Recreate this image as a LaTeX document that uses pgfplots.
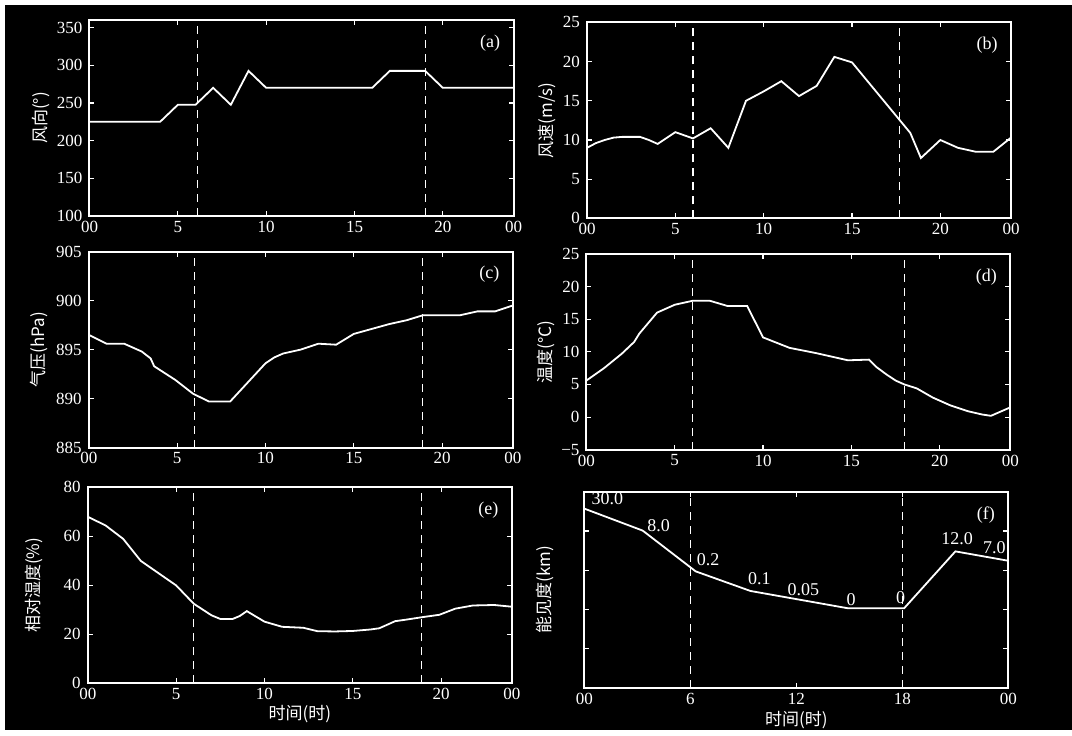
\documentclass[border=0pt]{standalone}
\usepackage{pgfplots}
\pgfplotsset{compat=1.18}
\usepackage{fontspec}
\setmainfont{Liberation Serif}
\newfontfamily\cjk{Noto Sans CJK SC}
\tikzset{
  plab/.style={white, font=\fontsize{9}{10}\selectfont, anchor=north east},
  dat/.style={white, line width=0.9pt},
  vl/.style={white, line width=0.6pt, dash pattern=on 4pt off 3pt},
}
\pgfplotsset{
  panel/.style={
    anchor=south west, scale only axis, width=212pt, height=98pt,
    xmin=0, xmax=24,
    xtick={0,5,10,15,20,24}, xticklabels={00,5,10,15,20,00},
    axis line style={white, line width=1pt},
    tick style={white, line width=0.6pt},
    tick align=inside, major tick length=2.5pt,
    ticklabel style={white, font=\fontsize{8.5}{9}\selectfont},
    /pgf/number format/assume math mode=true,
    xticklabel style={yshift=1pt},
    every axis label/.append style={white, font=\cjk\fontsize{8.5}{9}\selectfont},
    ylabel style={at={(axis description cs:0,0.5)}, anchor=center},
    xlabel style={at={(axis description cs:0.5,0)}, anchor=center},
  },
}
\begin{document}
\begin{tikzpicture}
\fill[white] (0,0) rectangle (536pt,365pt);
\fill[black] (2.5pt,0) rectangle (536pt,362.5pt);

% (a) wind direction
\begin{axis}[panel, at={(44.75pt,257pt)}, ymin=100, ymax=360,
  ytick={100,150,200,250,300,350},
  ylabel={风向(°)}, ylabel style={yshift=24pt}]
\addplot[vl] coordinates {(6.1,100) (6.1,360)};
\addplot[vl] coordinates {(19,100) (19,360)};
\addplot[dat] coordinates {(0,225) (4,225) (5,247.5) (6,247.5) (7,270) (8,247.5) (9,292.5) (10,270) (16,270) (17,292.5) (19,292.5) (20,270) (24,270)};
\node[plab] at (rel axis cs:0.985,0.96) {(a)};
\end{axis}

% (b) wind speed
\begin{axis}[panel, at={(293.5pt,255.8pt)}, ymin=0, ymax=25,
  ytick={0,5,10,15,20,25},
  ylabel={风速(m/s)}, ylabel style={yshift=20pt}]
\addplot[vl] coordinates {(6,0) (6,25)};
\addplot[vl] coordinates {(17.7,0) (17.7,25)};
\addplot[dat] coordinates {(0,9.0) (0.5,9.6) (1,10.0) (1.5,10.3) (2,10.4) (3,10.4) (3.5,10.0) (4,9.5) (5,11.0) (6,10.2) (7,11.5) (8,9.0) (9,15.0) (10,16.2) (11,17.5) (12,15.6) (13,16.9) (14,20.6) (15,19.9) (18.3,10.9) (18.9,7.7) (20,10.0) (21,9.0) (22,8.5) (23,8.5) (24,10.3)};
\node[plab] at (rel axis cs:0.985,0.96) {(b)};
\end{axis}

% (c) pressure
\begin{axis}[panel, at={(44.4pt,141.2pt)}, ymin=885, ymax=905,
  ytick={885,890,895,900,905},
  ylabel={气压(hPa)}, ylabel style={yshift=25pt}]
\addplot[vl] coordinates {(6,885) (6,905)};
\addplot[vl] coordinates {(18.9,885) (18.9,905)};
\addplot[dat] coordinates {(0,896.5) (1,895.6) (2,895.6) (3,894.8) (3.5,894.1) (3.7,893.3) (4.9,891.9) (5.9,890.5) (6.8,889.7) (8,889.7) (10,893.6) (10.5,894.2) (11,894.6) (12,895.0) (13,895.6) (14,895.5) (15,896.6) (16,897.1) (17,897.6) (18,898.0) (18.9,898.5) (21,898.5) (22,898.9) (23,898.9) (24,899.5)};
\node[plab] at (rel axis cs:0.985,0.96) {(c)};
\end{axis}

% (d) temperature
\begin{axis}[panel, at={(293.2pt,140.1pt)}, ymin=-5, ymax=25,
  ytick={-5,0,5,10,15,20,25}, yticklabels={−5,0,5,10,15,20,25},
  ylabel={温度(℃)}, ylabel style={yshift=20pt}]
\addplot[vl] coordinates {(6,-5) (6,25)};
\addplot[vl] coordinates {(18,-5) (18,25)};
\addplot[dat] coordinates {(0,5.6) (1,7.5) (2,9.7) (2.7,11.5) (3,12.8) (4,16.0) (5,17.2) (6,17.8) (7,17.8) (8,17.0) (9.1,17.0) (10,12.2) (11.5,10.6) (13,9.8) (14.8,8.7) (16,8.8) (16.4,7.7) (17,6.5) (17.5,5.6) (18,5.0) (18.7,4.4) (19.6,3.0) (20.6,1.8) (21.6,0.9) (22.4,0.4) (22.9,0.2) (24,1.5)};
\node[plab] at (rel axis cs:0.985,0.96) {(d)};
\end{axis}

% (e) relative humidity
\begin{axis}[panel, at={(43.9pt,23.3pt)}, ymin=0, ymax=80,
  ytick={0,20,40,60,80},
  ylabel={相对湿度(\%)}, ylabel style={yshift=27pt},
  xlabel={时间(时)}, xlabel style={yshift=-15.5pt}]
\addplot[vl] coordinates {(6,0) (6,80)};
\addplot[vl] coordinates {(18.9,0) (18.9,80)};
\addplot[dat] coordinates {(0,68) (1,64.5) (2,59) (2.5,54.5) (3,50) (4,45) (5,40) (6,32.5) (7,27.8) (7.5,26.3) (8.2,26.3) (8.6,27.5) (9,29.5) (10,25.2) (11,23.1) (12.2,22.7) (13,21.3) (14,21.2) (15,21.4) (16,22.0) (16.5,22.5) (17.4,25.4) (18,26.0) (18.9,27.0) (19.9,28.0) (20.8,30.5) (21.8,31.8) (23,32.0) (24,31.3)};
\node[plab] at (rel axis cs:0.985,0.96) {(e)};
\end{axis}

% (f) visibility
\begin{axis}[panel, at={(292.2pt,21.1pt)}, ymin=0, ymax=5,
  ytick={0,1,2,3,4,5}, yticklabels={},
  xtick={0,6,12,18,24}, xticklabels={00,6,12,18,00},
  ylabel={能见度(km)}, ylabel style={yshift=19.5pt},
  xlabel={时间(时)}, xlabel style={yshift=-16pt}]
\addplot[vl] coordinates {(6,0) (6,5)};
\addplot[vl] coordinates {(18,0) (18,5)};
\addplot[dat] coordinates {(0,4.57) (3.3,4.01) (6.3,2.97) (9.4,2.47) (14.9,2.03) (18.1,2.03) (21.0,3.48) (24,3.24)};
\begin{scope}[every node/.style={white, font=\fontsize{9}{10}\selectfont}]
\node at (axis cs:1.3,4.83) {30.0};
\node at (axis cs:4.2,4.13) {8.0};
\node at (axis cs:7.0,3.26) {0.2};
\node at (axis cs:9.9,2.78) {0.1};
\node at (axis cs:12.4,2.50) {0.05};
\node at (axis cs:15.1,2.25) {0};
\node at (axis cs:17.9,2.30) {0};
\node at (axis cs:21.1,3.80) {12.0};
\node at (axis cs:23.2,3.57) {7.0};
\end{scope}
\node[plab] at (rel axis cs:0.985,0.96) {(f)};
\end{axis}
\end{tikzpicture}
\end{document}
